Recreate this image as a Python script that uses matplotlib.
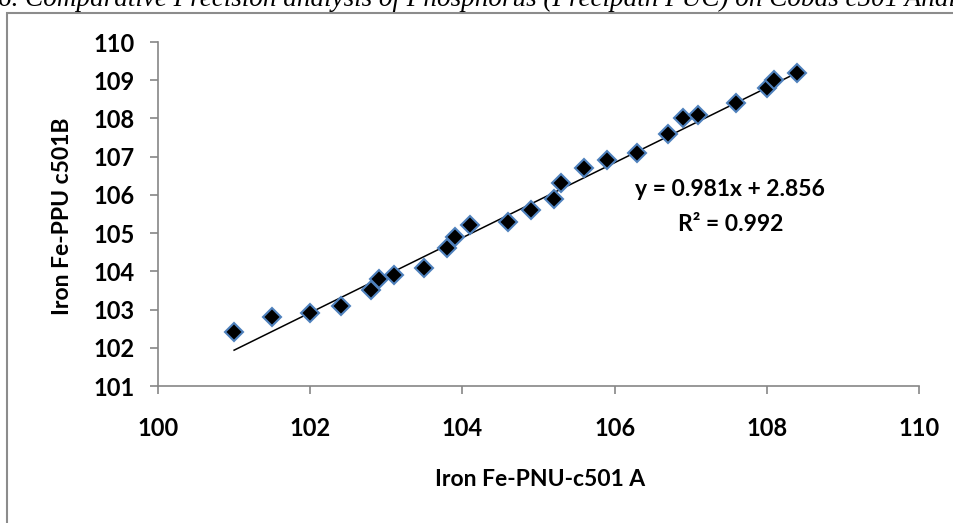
import numpy as np
import matplotlib
matplotlib.use("Agg")
import matplotlib.pyplot as plt
from matplotlib.patches import Rectangle

# paired Fe results, analyser A vs analyser B
fe_a = [101.0, 101.5, 102.0, 102.4, 102.8, 102.9, 103.1, 103.5, 103.8, 103.9,
        104.1, 104.6, 104.9, 105.2, 105.3, 105.6, 105.9, 106.3, 106.7, 106.9,
        107.1, 107.6, 108.0, 108.1, 108.4]
fe_b = [102.4, 102.8, 102.9, 103.1, 103.5, 103.8, 103.9, 104.1, 104.6, 104.9,
        105.2, 105.3, 105.6, 105.9, 106.3, 106.7, 106.9, 107.1, 107.6, 108.0,
        108.1, 108.4, 108.8, 109.0, 109.2]

slope = 0.981
intercept = 2.856
r_squared = 0.992

x_ticks = [100, 102, 104, 106, 108, 110]
y_ticks = [101, 102, 103, 104, 105, 106, 107, 108, 109, 110]

caption = "6. Comparative Precision analysis of Phosphorus (Precipath PUC) on Cobas c501 Analyzer"

plt.rcParams['font.family'] = ['Lato', 'DejaVu Sans']
axis_grey = "#868686"

fig = plt.figure(figsize=(9.54, 5.23), dpi=100)
ax = fig.add_axes([158 / 954, 1 - 386 / 523, 761 / 954, 344 / 523])

ax.plot(fe_a, fe_b, linestyle='none', marker='D', markersize=9,
        markerfacecolor='black', markeredgecolor='#4F81BD', markeredgewidth=1.5,
        zorder=3)

xs = np.array([min(fe_a), max(fe_a)])
ax.plot(xs, slope * xs + intercept, color='black', linewidth=1.1, zorder=2)

ax.text(0.752, 0.57, f"y = {slope}x + {intercept}", transform=ax.transAxes,
        ha='center', va='center', fontsize=16.5, fontweight='bold')
ax.text(0.752, 0.47, f"R\u00b2 = {r_squared}", transform=ax.transAxes,
        ha='center', va='center', fontsize=16.5, fontweight='bold')

ax.set_xlim(100, 110)
ax.set_ylim(101, 110)
ax.set_xticks(x_ticks)
ax.set_yticks(y_ticks)
for side in ('top', 'right'):
    ax.spines[side].set_visible(False)
for side in ('left', 'bottom'):
    ax.spines[side].set_color(axis_grey)
    ax.spines[side].set_linewidth(1.2)
ax.tick_params(axis='both', direction='out', length=6, width=1.2, color=axis_grey,
               labelsize=17)
ax.tick_params(axis='x', pad=16)
ax.tick_params(axis='y', pad=11)
for lab in ax.get_xticklabels() + ax.get_yticklabels():
    lab.set_fontweight('bold')

ax.set_xlabel("Iron Fe-PNU-c501 A", fontsize=16.5, fontweight='bold')
ax.set_ylabel("Iron Fe-PPU c501B", fontsize=16.5, fontweight='bold')
ax.xaxis.set_label_coords(0.502, -0.273)
ax.xaxis.label.set_va('center')
ax.yaxis.set_label_coords(-0.126, 0.494)
ax.yaxis.label.set_va('center')

# chart frame, running off the right and bottom edges
fig.add_artist(Rectangle((7 / 954, -0.1), 1.2, 1.1 - 13 / 523,
                         transform=fig.transFigure, fill=False,
                         edgecolor='#8c8c8c', linewidth=1.5, clip_on=False))

# figure caption above the chart, only its lower part falls inside the image
fig.text(-0.002, 1 - 6 / 523, caption, ha='left', va='baseline',
         fontsize=19.5, style='italic', family='Liberation Serif')

fig.savefig("out.png", dpi=100)
